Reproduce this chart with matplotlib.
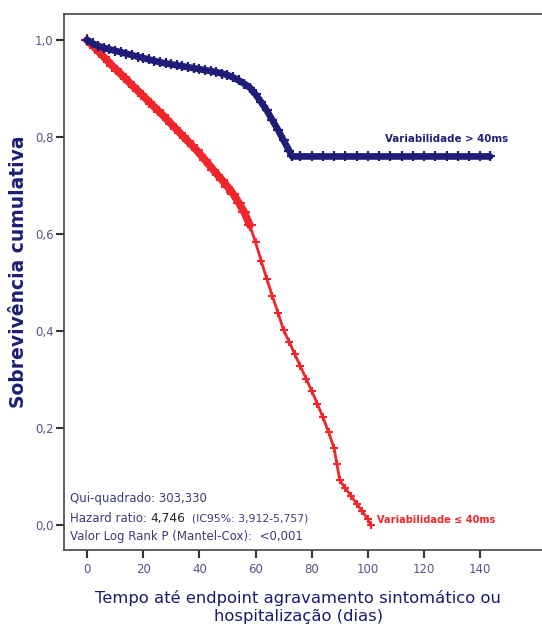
import matplotlib
matplotlib.use('Agg')
import matplotlib.pyplot as plt

plt.rcParams['font.family'] = ['DejaVu Sans']

# curva Variabilidade > 40ms
azul_t = [0, 2, 4, 6, 8, 10, 12, 14, 16, 18, 20, 22, 24, 26, 28, 30, 32, 34, 36, 38, 40,
          42, 44, 46, 48, 50, 52, 54, 56, 58, 60, 62, 64, 66, 68, 70, 72, 73,
          76, 80, 84, 88, 92, 96, 100, 104, 108, 112, 116, 120, 124, 128, 132, 136, 140, 143.5]
azul_s = [1.0, 0.993, 0.988, 0.984, 0.981, 0.978, 0.975, 0.972, 0.969, 0.966, 0.963, 0.960,
          0.957, 0.954, 0.952, 0.950, 0.948, 0.946, 0.944, 0.942, 0.940, 0.938, 0.936, 0.934,
          0.931, 0.928, 0.923, 0.917, 0.910, 0.902, 0.888, 0.872, 0.855, 0.835, 0.815, 0.793,
          0.772, 0.760, 0.760, 0.760, 0.760, 0.760, 0.760, 0.760, 0.760, 0.760, 0.760, 0.760,
          0.760, 0.760, 0.760, 0.760, 0.760, 0.760, 0.760, 0.760]

# curva Variabilidade <= 40ms
verm_t = [0, 3, 6, 9, 12, 15, 18, 21, 24, 27, 30, 33, 36, 39, 42, 45, 48, 50, 52, 54, 56,
          58, 60, 62, 64, 66, 68, 70, 72, 74, 76, 78, 80, 82, 84, 86, 88, 89, 90, 92, 94,
          96, 98, 100, 101]
verm_s = [1.0, 0.983, 0.965, 0.947, 0.930, 0.913, 0.896, 0.879, 0.862, 0.845, 0.827, 0.809,
          0.791, 0.773, 0.753, 0.732, 0.712, 0.698, 0.683, 0.665, 0.645, 0.618, 0.583, 0.545,
          0.508, 0.472, 0.438, 0.402, 0.378, 0.352, 0.327, 0.302, 0.277, 0.250, 0.222, 0.192,
          0.158, 0.125, 0.092, 0.076, 0.060, 0.044, 0.028, 0.012, 0.0]

x_ticks = [0, 20, 40, 60, 80, 100, 120, 140]
y_ticks = [0.0, 0.2, 0.4, 0.6, 0.8, 1.0]
y_labels = ['0,0', '0,2', '0,4', '0,6', '0,8', '1,0']

azul = '#1e1e78'
vermelho = '#f0262b'
texto = '#3c3c78'

fig = plt.figure(figsize=(5.42, 6.31), dpi=100)
ax = fig.add_axes([0.118, 0.128, 0.882, 0.850])

# trecho inicial mais espesso (muitas censuras)
n_grosso = verm_t.index(58) + 1
ax.plot(verm_t[:n_grosso], verm_s[:n_grosso], color=vermelho, lw=5.5, solid_capstyle='round',
        marker='+', ms=8, mew=1.5, markevery=1)
ax.plot(verm_t, verm_s, color=vermelho, lw=2.0, marker='+', ms=6, mew=1.5)
ax.plot(azul_t, azul_s, color=azul, lw=4.8, marker='+', ms=7, mew=1.6,
        solid_capstyle='round')

ax.set_xlim(-8.2, 162)
ax.set_ylim(-0.052, 1.054)
ax.set_xticks(x_ticks)
ax.set_yticks(y_ticks)
ax.set_yticklabels(y_labels)
ax.tick_params(direction='out', length=6, width=1.5, color='#333333',
               labelcolor='#555585', labelsize=8.5)
ax.tick_params(axis='y', pad=1.5)
for s in ax.spines.values():
    s.set_color('#444444')
    s.set_linewidth(1.2)
ax.spines['right'].set_visible(False)

ax.set_ylabel('Sobrevivência cumulativa', fontsize=13.5, fontweight='bold', color=azul)
ax.yaxis.set_label_coords(-0.075, 0.519, transform=ax.transAxes)
ax.set_xlabel('Tempo até endpoint agravamento sintomático ou\nhospitalização (dias)',
              fontsize=11.8, color='#1a1a6e', linespacing=1.2)
ax.xaxis.set_label_coords(0.49, -0.075, transform=ax.transAxes)
ax.xaxis.label.set_verticalalignment('top')

ax.text(150, 0.797, 'Variabilidade > 40ms', ha='right', va='center', color=azul,
        fontsize=8.2, fontweight='bold', fontstretch='condensed')
ax.text(145.5, 0.010, 'Variabilidade ≤ 40ms', ha='right', va='center', color=vermelho,
        fontsize=7.8, fontweight='bold', fontstretch='condensed')

ax.text(-6.1, 0.0557, 'Qui-quadrado: 303,330', color=texto, fontsize=8.5, va='center')
ax.text(-6.1, 0.0144, 'Hazard ratio:', color=texto, fontsize=8.5, va='center')
ax.text(22.4, 0.0144, '4,746', color='#222222', fontsize=8.8, va='center')
ax.text(37.4, 0.0144, '(IC95%: 3,912-5,757)', color=texto, fontsize=7.8, va='center')
ax.text(-6.1, -0.0227, 'Valor Log Rank P (Mantel-Cox):  <0,001', color=texto, fontsize=8.5,
        va='center')

fig.savefig('out.png', dpi=100, facecolor='white')
